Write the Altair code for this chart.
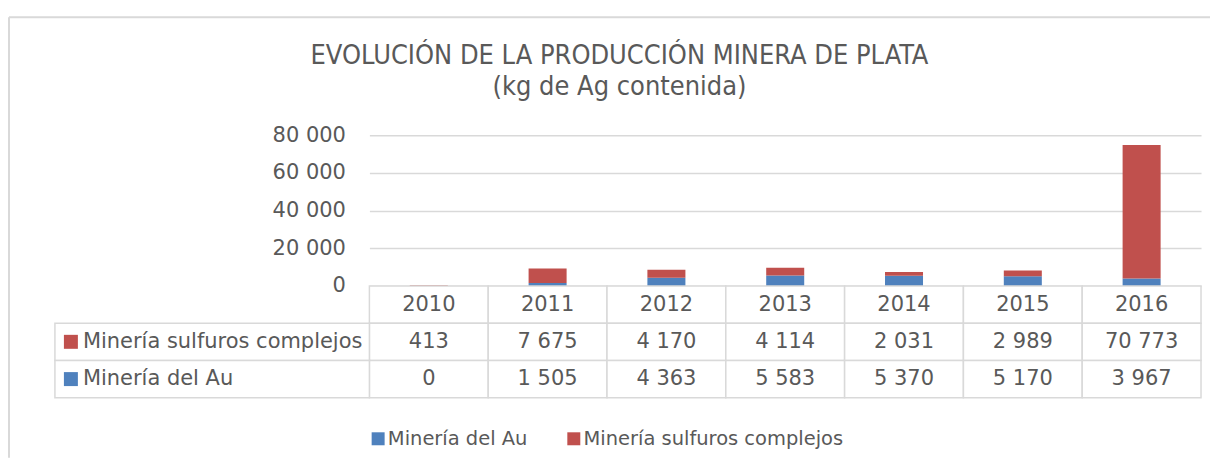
import altair as alt
import pandas as pd

years = ["2010", "2011", "2012", "2013", "2014", "2015", "2016"]
series = ["Minería del Au", "Minería sulfuros complejos"]
au = [0, 1505, 4363, 5583, 5370, 5170, 3967]
sulf = [413, 7675, 4170, 4114, 2031, 2989, 70773]
colors = ["#4f81bd", "#c0504d"]
title_lines = ["EVOLUCIÓN DE LA PRODUCCIÓN MINERA DE PLATA", "(kg de Ag contenida)"]


def fmt(v):
    return f"{v:,}".replace(",", " ")


rows = []
for y, a, s in zip(years, au, sulf):
    rows.append({"year": y, "series": series[0], "value": a, "ord": 0})
    rows.append({"year": y, "series": series[1], "value": s, "ord": 1})
df = pd.DataFrame(rows)

row_order = ["hdr", series[1], series[0]]
cells = []
for y, a, s in zip(years, au, sulf):
    cells.append({"year": y, "row": "hdr", "txt": y})
    cells.append({"year": y, "row": series[1], "txt": fmt(s)})
    cells.append({"year": y, "row": series[0], "txt": fmt(a)})
cdf = pd.DataFrame(cells)
ldf = pd.DataFrame({"row": [series[1], series[0]]})
one = pd.DataFrame({"k": [0]})

FONT = "DejaVu Sans"
GRAY = "#595959"
LINE = "#d9d9d9"

bars = alt.Chart(df).mark_bar().encode(
    x=alt.X("year:N", sort=years, axis=None,
            scale=alt.Scale(paddingInner=0.68, paddingOuter=0.34)),
    y=alt.Y("value:Q", stack="zero", scale=alt.Scale(domain=[0, 80000]),
            axis=alt.Axis(values=[0, 20000, 40000, 60000, 80000], title=None,
                          domain=False, ticks=False, labelPadding=24,
                          labelFontSize=21, labelColor=GRAY, labelFont=FONT,
                          gridColor=LINE, gridWidth=1.5,
                          labelExpr="replace(format(datum.value, ','), ',', ' ')")),
    color=alt.Color("series:N", scale=alt.Scale(domain=series, range=colors),
                    legend=alt.Legend(title=None, orient="none", direction="horizontal",
                                      legendX=-1, legendY=294, padding=0,
                                      symbolType="square", symbolSize=169,
                                      symbolStrokeWidth=0, symbolOpacity=1,
                                      labelFont=FONT, labelFontSize=19.5,
                                      labelColor=GRAY, labelOffset=0, labelLimit=0,
                                      columnPadding=36)),
    order=alt.Order("ord:Q"),
)

border_left = alt.Chart(one).mark_rule(color=LINE, strokeWidth=2).encode(
    x=alt.value(-361), y=alt.value(-118), y2=alt.value(323))
border_top = alt.Chart(one).mark_rule(color=LINE, strokeWidth=2).encode(
    x=alt.value(-361), x2=alt.value(842), y=alt.value(-118))
title = alt.Chart(one).mark_text(
    text=title_lines, font="DejaVu Sans Condensed, Liberation Sans Narrow, DejaVu Sans",
    fontSize=27, color=GRAY, align="center", baseline="alphabetic", lineHeight=31,
).encode(x=alt.value(250.5), y=alt.value(-71))

top = alt.layer(border_left, border_top, title, bars).properties(width=833, height=151)

xs = alt.X("year:N", sort=years, axis=None,
           scale=alt.Scale(paddingInner=0, paddingOuter=0))
ys = alt.Y("row:N", sort=row_order, axis=None,
           scale=alt.Scale(domain=row_order, paddingInner=0, paddingOuter=0))

grid = alt.Chart(cdf).mark_rect(fill="white", stroke=LINE, strokeWidth=1.5).encode(x=xs, y=ys)
vals = alt.Chart(cdf).mark_text(font=FONT, fontSize=21, color=GRAY).encode(x=xs, y=ys, text="txt:N")
lcell = alt.Chart(ldf).mark_rect(fill="white", stroke=LINE, strokeWidth=1.5).encode(
    x=alt.value(-315), x2=alt.value(0), y=ys)
lkey = alt.Chart(ldf).mark_square(size=196, opacity=1).encode(
    x=alt.value(-299), y=ys,
    fill=alt.Fill("row:N", scale=alt.Scale(domain=series, range=colors), legend=None))
ltext = alt.Chart(ldf).mark_text(align="left", font=FONT, fontSize=21, color=GRAY).encode(
    x=alt.value(-287), y=ys, text="row:N")

table = alt.layer(grid, lcell, vals, lkey, ltext).properties(width=833, height=112)

chart = alt.vconcat(top, table, spacing=0, bounds="flush").properties(
    padding={"left": 0, "top": 8, "right": 0, "bottom": 0},
).configure_view(stroke=None).configure_concat(spacing=0)

chart.save("out.html", embed_options={"renderer": "svg", "actions": False})
